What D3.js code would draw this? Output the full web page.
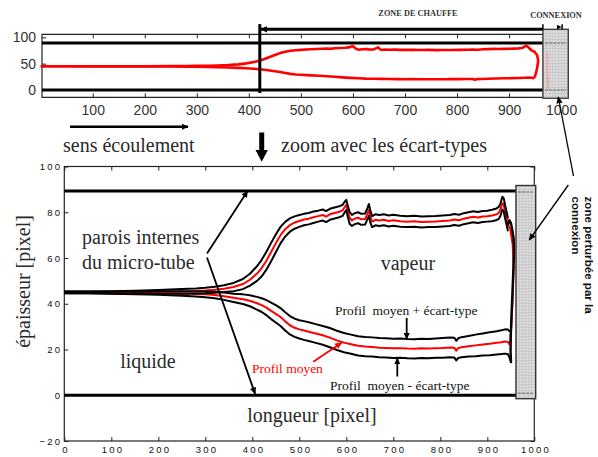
<!DOCTYPE html>
<html>
<head>
<meta charset="utf-8">
<script src="https://cdn.jsdelivr.net/npm/d3@7"></script>
<style>
  html, body { margin: 0; padding: 0; background: #fff; }
  svg { display: block; }
  text { white-space: pre; }
</style>
</head>
<body>
<svg id="chart" width="598" height="457"></svg>
<script>
// ---------- Profil supérieur (interface haute) ----------
const hautX = [0,50,100,150,200,250,280,300,320,340,360,380,395,410,420,430,440,450,460,470,480,490,500,510,520,530,540,550,557,565,575,585,592,597,600,603,607,612,618,625,632,640,645,648,651,655,662,670,680,690,700,715,730,745,760,775,790,805,820,830,840,850,860,870,880,890,900,910,918,924,928,932,935,938,941,944];
const hautMoy = [45.0,45.0,45.0,45.1,45.2,45.4,45.6,45.8,46.1,46.6,47.3,48.6,50.5,53.2,55.6,58.8,62.6,66.4,70.0,72.6,74.4,75.5,76.2,76.8,77.2,77.8,78.3,78.8,78.1,79.1,79.7,80.2,80.8,82.4,83.2,80.5,77.6,76.4,77.2,77.6,76.9,77.0,79.4,81.0,78.2,75.9,76.7,76.4,76.7,76.2,76.5,76.1,75.9,76.1,75.7,75.9,76.0,76.2,76.4,76.8,76.5,77.2,77.6,78.0,77.7,78.1,78.3,78.6,79.0,79.6,81.2,84.0,83.2,80.0,77.4,74.5];
const hautEcart = [0.4,0.4,0.5,0.6,0.8,1.0,1.1,1.2,1.3,1.5,1.8,2.2,2.6,3.2,3.6,3.9,4.0,3.9,3.6,3.2,2.9,2.7,2.6,2.5,2.5,2.5,2.4,2.4,2.4,2.4,2.4,2.4,2.4,2.3,2.2,2.4,2.6,2.4,2.4,2.4,2.4,2.4,2.4,2.6,2.6,2.4,2.4,2.4,2.4,2.4,2.4,2.4,2.4,2.4,2.4,2.4,2.4,2.4,2.4,2.4,2.4,2.4,2.4,2.4,2.4,2.4,2.4,2.5,2.5,2.6,2.7,2.8,2.9,2.9,2.8,2.8];

// ---------- Profil inférieur (interface basse) ----------
const basX = [0,50,100,150,200,250,280,300,320,340,360,380,395,410,420,430,440,450,460,470,480,490,500,510,520,535,550,565,580,595,610,625,640,655,670,685,700,715,730,745,760,775,790,805,820,830,834,838,845,860,875,890,905,920,930,938,944,948];
const basMoy = [45.0,45.0,44.9,44.8,44.7,44.5,44.3,44.1,43.8,43.3,42.6,42.0,41.3,40.2,39.4,38.3,36.9,35.6,34.2,32.3,30.6,29.5,28.8,28.3,27.8,27.0,26.2,25.2,24.0,23.0,22.3,21.6,21.3,21.1,20.8,20.7,20.5,20.6,20.4,20.3,20.5,20.4,20.6,20.7,20.9,20.8,19.5,20.6,21.0,21.4,21.8,22.2,22.5,22.9,23.2,23.5,23.3,22.0];
const basEcart = [0.4,0.4,0.5,0.6,0.8,1.0,1.1,1.3,1.4,1.6,1.8,2.1,2.4,2.8,3.0,3.3,3.6,3.8,3.9,4.0,4.0,4.0,4.0,4.1,4.1,4.1,4.1,4.2,4.2,4.2,4.2,4.2,4.2,4.2,4.2,4.2,4.2,4.2,4.2,4.2,4.2,4.2,4.2,4.3,4.3,4.3,4.3,4.3,4.4,4.5,4.7,4.8,5.0,5.1,5.2,5.3,5.4,5.8];

// ---------- Raccord des deux interfaces près de la connexion ----------
const jonctionNoire = [[944,74.5],[947,76.5],[950,75.5],[953,72.5],[956,68.5],[957,63],[955.5,55],[953.5,45],[951.5,35],[950,26],[949.5,19],[950.5,14.5],[948,16.2]];
const jonctionRouge = [[944,74.5],[949,72.5],[954,66],[956,56],[954,42],[951,30],[948,22]];
const traceConnexion = [[973,72],[973,45],[975,2]];

// ---------- Géométrie du tube ----------
const parois = [0, 89.3];          // parois internes [pixel]
const zoneConnexionBas = [961, 1003, -1.5, 91.7];
const zoneConnexionHaut = [965, 1013.8, -15.7, 115.2];
const debutChauffe = 421;

// ---------- Graduations ----------
const ticksXHaut = [100,200,300,400,500,600,700,800,900,1000];
const ticksYHaut = [0,50,100];
const ticksXBas = [0,100,200,300,400,500,600,700,800,900,1000];
const ticksYBas = [-20,0,20,40,60,80,100];

const serif = "'Liberation Serif','Times New Roman',serif";
const sans = "'Liberation Sans',Arial,Helvetica,sans-serif";
const ink = "#222";
const entier = d3.format("d");

const svg = d3.select("#chart");
const defs = svg.append("defs");

function pointe(id, color, size) {
  defs.append("marker").attr("id", id)
    .attr("viewBox", "0 0 10 10").attr("refX", 9).attr("refY", 5)
    .attr("markerWidth", size).attr("markerHeight", size)
    .attr("markerUnits", "userSpaceOnUse").attr("orient", "auto-start-reverse")
    .append("path").attr("d", "M0,0.5L10,5L0,9.5z").attr("fill", color);
}
pointe("fl", "#000", 7);
pointe("flR", "#f00", 7);

const grille = defs.append("pattern").attr("id", "grille")
  .attr("width", 3).attr("height", 3).attr("patternUnits", "userSpaceOnUse");
grille.append("rect").attr("width", 3).attr("height", 3).attr("fill", "#dadada");
grille.append("path").attr("d", "M0,0.5H3M0.5,0V3").attr("stroke", "#c2c2c2").attr("stroke-width", 0.6);

const pts = (xs, ys) => xs.map((x, i) => [x, ys[i]]);

// ======================= Vue d'ensemble (haut) =======================
const xT = d3.scaleLinear([0, 1000], [40.7, 561.1]);
const yT = d3.scaleLinear([0, 100], [90, 37.3]);
const gT = svg.append("g");
const frT = { x0: xT(2.5), x1: xT(965), y0: yT(105.7), y1: yT(-13.9) };

gT.append("path")
  .attr("d", `M${frT.x1},${frT.y0}H${frT.x0}V${frT.y1}H${frT.x1}`)
  .attr("fill", "none").attr("stroke", ink).attr("stroke-width", 1.2);

gT.append("g").attr("transform", `translate(0,${frT.y1})`)
  .call(d3.axisBottom(xT).tickValues(ticksXHaut).tickFormat(entier).tickSize(-4).tickPadding(8).tickSizeOuter(0))
  .call(g => g.select(".domain").remove())
  .call(g => g.selectAll("line").attr("stroke", ink).filter(d => d > 950).remove())
  .call(g => g.selectAll("text").attr("font-family", sans).attr("font-size", 14).attr("fill", "#333"));
gT.append("g").attr("transform", `translate(0,${frT.y0})`)
  .call(d3.axisTop(xT).tickValues(ticksXHaut.filter(d => d < 950)).tickSize(-4).tickFormat(""))
  .call(g => g.select(".domain").remove())
  .call(g => g.selectAll("line").attr("stroke", ink));
gT.append("g").attr("transform", `translate(${frT.x0},0)`)
  .call(d3.axisLeft(yT).tickValues(ticksYHaut).tickFormat(entier).tickSize(-4).tickPadding(6))
  .call(g => g.select(".domain").remove())
  .call(g => g.selectAll("line").attr("stroke", ink))
  .call(g => g.selectAll("text").attr("font-family", sans).attr("font-size", 14).attr("fill", "#333"));

// parois
gT.selectAll(".paroi").data(parois).join("line")
  .attr("x1", frT.x0).attr("x2", xT(zoneConnexionHaut[0]))
  .attr("y1", d => yT(d)).attr("y2", d => yT(d))
  .attr("stroke", "#000").attr("stroke-width", 3);

// profils moyens
const lT = d3.line().x(d => xT(d[0])).y(d => yT(d[1]));
[pts(hautX, hautMoy), pts(basX, basMoy), jonctionRouge].forEach(p =>
  gT.append("path").attr("d", lT(p)).attr("fill", "none")
    .attr("stroke", "#f00").attr("stroke-width", 2.6).attr("stroke-linejoin", "round"));

// zone de connexion
gT.append("rect")
  .attr("x", xT(zoneConnexionHaut[0])).attr("y", yT(zoneConnexionHaut[3]))
  .attr("width", xT(zoneConnexionHaut[1]) - xT(zoneConnexionHaut[0]))
  .attr("height", yT(zoneConnexionHaut[2]) - yT(zoneConnexionHaut[3]))
  .attr("fill", "url(#grille)").attr("stroke", "#333").attr("stroke-width", 1.3);
gT.selectAll(".paroiC").data(parois).join("line")
  .attr("x1", xT(zoneConnexionHaut[0]) + 2).attr("x2", xT(zoneConnexionHaut[1]) - 2)
  .attr("y1", d => yT(d)).attr("y2", d => yT(d))
  .attr("stroke", "#888").attr("stroke-width", 1.4).attr("stroke-dasharray", "3,1");
gT.append("path").attr("d", lT(traceConnexion)).attr("fill", "none")
  .attr("stroke", "#f7a0a0").attr("stroke-width", 1.5);

// zone de chauffe
gT.append("line")
  .attr("x1", xT(zoneConnexionHaut[0])).attr("x2", xT(debutChauffe) + 1)
  .attr("y1", yT(zoneConnexionHaut[3])).attr("y2", yT(zoneConnexionHaut[3]))
  .attr("stroke", "#000").attr("stroke-width", 3).attr("marker-end", "url(#fl)");
gT.append("line")
  .attr("x1", xT(debutChauffe)).attr("x2", xT(debutChauffe))
  .attr("y1", yT(125)).attr("y2", yT(-5.7))
  .attr("stroke", "#000").attr("stroke-width", 3);
gT.append("line")
  .attr("x1", xT(zoneConnexionHaut[0])).attr("x2", xT(zoneConnexionHaut[0]))
  .attr("y1", yT(125)).attr("y2", yT(115))
  .attr("stroke", "#000").attr("stroke-width", 1.5);
gT.append("path")
  .attr("d", `M${xT(992)},${yT(124)}L${xT(1001)},${yT(119.5)}L${xT(992)},${yT(115)}z`)
  .attr("fill", "#000");
gT.append("line")
  .attr("x1", xT(1002)).attr("x2", xT(1002)).attr("y1", yT(125)).attr("y2", yT(115))
  .attr("stroke", "#000").attr("stroke-width", 1.5);

gT.append("text").attr("x", 418).attr("y", 15.5).attr("text-anchor", "middle")
  .attr("font-family", serif).attr("font-weight", "bold").attr("font-size", 8.3)
  .attr("fill", "#333").text("ZONE DE CHAUFFE");
gT.append("text").attr("x", 556).attr("y", 18).attr("text-anchor", "middle")
  .attr("font-family", serif).attr("font-weight", "bold").attr("font-size", 8.3)
  .attr("fill", "#333").text("CONNEXION");

// ======================= Liaison entre les deux vues =======================
svg.append("line").attr("x1", 70).attr("x2", 188).attr("y1", 126.7).attr("y2", 126.7)
  .attr("stroke", "#000").attr("stroke-width", 2.5).attr("marker-end", "url(#fl)");
svg.append("text").attr("x", 63).attr("y", 152).attr("font-family", serif)
  .attr("font-size", 20).attr("fill", "#2a2a2a").text("sens écoulement");
svg.append("line").attr("x1", 261.7).attr("x2", 261.7).attr("y1", 132.5).attr("y2", 151)
  .attr("stroke", "#000").attr("stroke-width", 5);
svg.append("path").attr("d", "M255.5,150L267.9,150L261.7,161.7z").attr("fill", "#000");
svg.append("text").attr("x", 281).attr("y", 152).attr("font-family", serif)
  .attr("font-size", 20).attr("fill", "#2a2a2a").text("zoom avec les écart-types");

// ======================= Vue détaillée (bas) =======================
const xB = d3.scaleLinear([0, 1000], [64.3, 534.3]);
const yB = d3.scaleLinear([-20, 100], [441, 166.5]);
const gB = svg.append("g");

gB.append("rect").attr("x", xB(0)).attr("y", yB(100))
  .attr("width", xB(1000) - xB(0)).attr("height", yB(-20) - yB(100))
  .attr("fill", "none").attr("stroke", ink).attr("stroke-width", 1.2);

gB.append("g").attr("transform", `translate(0,${yB(-20)})`)
  .call(d3.axisBottom(xB).tickValues(ticksXBas).tickFormat(entier).tickSize(-4).tickPadding(5).tickSizeOuter(0))
  .call(g => g.select(".domain").remove())
  .call(g => g.selectAll("line").attr("stroke", ink))
  .call(g => g.selectAll("text").attr("font-family", sans).attr("font-size", 9.5)
    .attr("letter-spacing", "2.2px").attr("dx", "1.1px").attr("fill", "#111"));
gB.append("g").attr("transform", `translate(0,${yB(100)})`)
  .call(d3.axisTop(xB).tickValues(ticksXBas).tickSize(-4).tickFormat(""))
  .call(g => g.select(".domain").remove())
  .call(g => g.selectAll("line").attr("stroke", ink));
gB.append("g").attr("transform", `translate(${xB(0)},0)`)
  .call(d3.axisLeft(yB).tickValues(ticksYBas).tickFormat(entier).tickSize(-4).tickPadding(2))
  .call(g => g.select(".domain").remove())
  .call(g => g.selectAll("line").attr("stroke", ink))
  .call(g => g.selectAll("text").attr("font-family", sans).attr("font-size", 9.5)
    .attr("letter-spacing", "2.2px").attr("fill", "#111"));
gB.append("g").attr("transform", `translate(${xB(1000)},0)`)
  .call(d3.axisRight(yB).tickValues(ticksYBas).tickSize(-4).tickFormat(""))
  .call(g => g.select(".domain").remove())
  .call(g => g.selectAll("line").attr("stroke", ink));

// parois internes
gB.selectAll(".paroi").data(parois).join("line")
  .attr("x1", xB(0)).attr("x2", xB(zoneConnexionBas[0]))
  .attr("y1", d => yB(d)).attr("y2", d => yB(d))
  .attr("stroke", "#000").attr("stroke-width", 3);

// profils moyens et profils ± écart-type
const lB = d3.line().x(d => xB(d[0])).y(d => yB(d[1]));
const series = [
  { x: hautX, m: hautMoy, s: hautEcart },
  { x: basX, m: basMoy, s: basEcart }
];
series.forEach(sr => {
  gB.append("path").attr("d", lB(pts(sr.x, sr.m)))
    .attr("fill", "none").attr("stroke", "#f00").attr("stroke-width", 2).attr("stroke-linejoin", "round");
});
gB.append("path").attr("d", lB(jonctionRouge)).attr("fill", "none")
  .attr("stroke", "#f00").attr("stroke-width", 2);
series.forEach(sr => {
  [1, -1].forEach(k => {
    gB.append("path").attr("d", lB(sr.x.map((x, i) => [x, sr.m[i] + k * sr.s[i]])))
      .attr("fill", "none").attr("stroke", "#000").attr("stroke-width", 2).attr("stroke-linejoin", "round");
  });
});
gB.append("path").attr("d", lB(jonctionNoire)).attr("fill", "none")
  .attr("stroke", "#000").attr("stroke-width", 2.4).attr("stroke-linejoin", "round");

// zone de connexion
gB.append("rect")
  .attr("x", xB(zoneConnexionBas[0])).attr("y", yB(zoneConnexionBas[3]))
  .attr("width", xB(zoneConnexionBas[1]) - xB(zoneConnexionBas[0]))
  .attr("height", yB(zoneConnexionBas[2]) - yB(zoneConnexionBas[3]))
  .attr("fill", "url(#grille)").attr("stroke", "#333").attr("stroke-width", 1.4);
gB.selectAll(".paroiC").data(parois).join("line")
  .attr("x1", xB(zoneConnexionBas[0]) + 2).attr("x2", xB(zoneConnexionBas[1]) - 2)
  .attr("y1", d => yB(d) + (d > 0 ? 1 : -2)).attr("y2", d => yB(d) + (d > 0 ? 1 : -2))
  .attr("stroke", "#8a8a8a").attr("stroke-width", 1.6).attr("stroke-dasharray", "3,1");

// textes de la vue détaillée
const txt = (x, y, s, size, color, anchor) =>
  gB.append("text").attr("x", x).attr("y", y).attr("text-anchor", anchor || "start")
    .attr("font-family", serif).attr("font-size", size).attr("fill", color || "#2a2a2a").text(s);

txt(82, 243.5, "parois internes", 20);
txt(82, 268.5, "du micro-tube", 20);
txt(xB(731), 270, "vapeur", 20, "#2a2a2a", "middle");
txt(xB(178), 367.5, "liquide", 20, "#2a2a2a", "middle");
txt(312, 421.5, "longueur [pixel]", 20, "#2a2a2a", "middle");
txt(252, 372.5, "Profil moyen", 13.5, "#f00");
txt(335, 315, "Profil  moyen + écart-type", 13.5, "#111");
txt(330, 389.5, "Profil  moyen - écart-type", 13.5, "#111");

svg.append("text").attr("transform", "translate(30,281.5) rotate(-90)")
  .attr("text-anchor", "middle").attr("font-family", serif).attr("font-size", 20)
  .attr("fill", "#2a2a2a").text("épaisseur [pixel]");

// flèches d'annotation (coordonnées en unités du graphe)
const fleches = [
  { de: [303.6, 62.0], a: [390, 89.3], m: "fl", c: "#000" },
  { de: [303.6, 60.2], a: [406, 0.6], m: "fl", c: "#000" },
  { de: [529.8, 14.6], a: [590, 23.0], m: "flR", c: "#f00" },
  { de: [728.5, 33.8], a: [728.5, 24.6], m: "fl", c: "#000" },
  { de: [708.5, 8.2], a: [708.5, 16.2], m: "fl", c: "#000" }
];
fleches.forEach(f => {
  gB.append("line")
    .attr("x1", xB(f.de[0])).attr("y1", yB(f.de[1]))
    .attr("x2", xB(f.a[0])).attr("y2", yB(f.a[1]))
    .attr("stroke", f.c).attr("stroke-width", 1.8).attr("marker-end", `url(#${f.m})`);
});

// légende de la zone perturbée
const lg = svg.append("text").attr("transform", "translate(584.5,196.5) rotate(90)")
  .attr("font-family", sans).attr("font-weight", "bold").attr("font-size", 11.6).attr("fill", "#111");
lg.append("tspan").attr("x", 0).attr("dy", 0).text("zone perturbée par la");
lg.append("tspan").attr("x", 0).attr("dy", 12.6).text("connexion");

svg.append("line").attr("x1", 573.5).attr("y1", 176).attr("x2", 558.3).attr("y2", 97)
  .attr("stroke", "#000").attr("stroke-width", 1.3).attr("marker-end", "url(#fl)");
svg.append("line").attr("x1", 568.3).attr("y1", 185).attr("x2", 529.3).attr("y2", 240)
  .attr("stroke", "#000").attr("stroke-width", 1.3).attr("marker-end", "url(#fl)");
</script>
</body>
</html>
